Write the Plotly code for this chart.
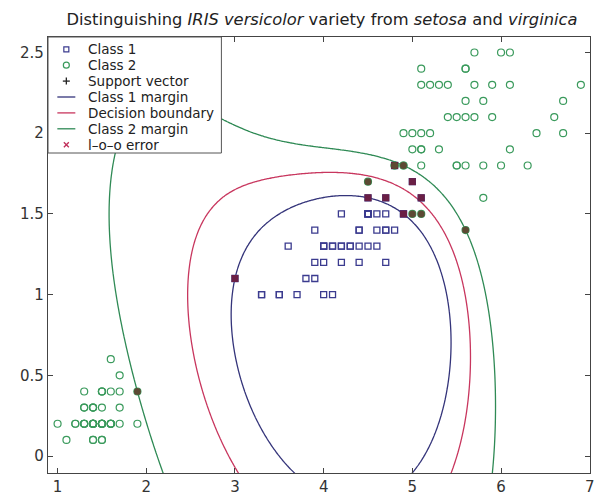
import numpy as np
import plotly.graph_objects as go

# Iris petal measurements (cm): length, width
versicolor_length = [4.7, 4.5, 4.9, 4.0, 4.6, 4.5, 4.7, 3.3, 4.6, 3.9, 3.5, 4.2, 4.0, 4.7, 3.6, 4.4, 4.5,
                     4.1, 4.5, 3.9, 4.8, 4.0, 4.9, 4.7, 4.3, 4.4, 4.8, 5.0, 4.5, 3.5, 3.8, 3.7, 3.9, 5.1,
                     4.5, 4.5, 4.7, 4.4, 4.1, 4.0, 4.4, 4.6, 4.0, 3.3, 4.2, 4.2, 4.2, 4.3, 3.0, 4.1]
versicolor_width = [1.4, 1.5, 1.5, 1.3, 1.5, 1.3, 1.6, 1.0, 1.3, 1.4, 1.0, 1.5, 1.0, 1.4, 1.3, 1.4, 1.5,
                    1.0, 1.5, 1.1, 1.8, 1.3, 1.5, 1.2, 1.3, 1.4, 1.4, 1.7, 1.5, 1.0, 1.1, 1.0, 1.2, 1.6,
                    1.5, 1.6, 1.5, 1.3, 1.3, 1.3, 1.2, 1.4, 1.2, 1.0, 1.3, 1.2, 1.3, 1.3, 1.1, 1.3]
setosa_length = [1.4, 1.4, 1.3, 1.5, 1.4, 1.7, 1.4, 1.5, 1.4, 1.5, 1.5, 1.6, 1.4, 1.1, 1.2, 1.5, 1.3,
                 1.4, 1.7, 1.5, 1.7, 1.5, 1.0, 1.7, 1.9, 1.6, 1.6, 1.5, 1.4, 1.6, 1.6, 1.5, 1.5, 1.4,
                 1.5, 1.2, 1.3, 1.4, 1.3, 1.5, 1.3, 1.3, 1.3, 1.6, 1.9, 1.4, 1.6, 1.4, 1.5, 1.4]
setosa_width = [0.2, 0.2, 0.2, 0.2, 0.2, 0.4, 0.3, 0.2, 0.2, 0.1, 0.2, 0.2, 0.1, 0.1, 0.2, 0.4, 0.4,
                0.3, 0.3, 0.3, 0.2, 0.4, 0.2, 0.5, 0.2, 0.2, 0.4, 0.2, 0.2, 0.2, 0.2, 0.4, 0.1, 0.2,
                0.2, 0.2, 0.2, 0.1, 0.2, 0.2, 0.3, 0.3, 0.2, 0.6, 0.4, 0.3, 0.2, 0.2, 0.2, 0.2]
virginica_length = [6.0, 5.1, 5.9, 5.6, 5.8, 6.6, 4.5, 6.3, 5.8, 6.1, 5.1, 5.3, 5.5, 5.0, 5.1, 5.3, 5.5,
                    6.7, 6.9, 5.0, 5.7, 4.9, 6.7, 4.9, 5.7, 6.0, 4.8, 4.9, 5.6, 5.8, 6.1, 6.4, 5.6, 5.1,
                    5.6, 6.1, 5.6, 5.5, 4.8, 5.4, 5.6, 5.1, 5.1, 5.9, 5.7, 5.2, 5.0, 5.2, 5.4, 5.1]
virginica_width = [2.5, 1.9, 2.1, 1.8, 2.2, 2.1, 1.7, 1.8, 1.8, 2.5, 2.0, 1.9, 2.1, 2.0, 2.4, 2.3, 1.8,
                   2.2, 2.3, 1.5, 2.3, 2.0, 2.0, 1.8, 2.1, 1.8, 1.8, 1.8, 2.1, 1.6, 1.9, 2.0, 2.2, 1.5,
                   1.4, 2.3, 2.4, 1.8, 1.8, 2.1, 2.4, 2.3, 1.9, 2.3, 2.5, 2.3, 1.9, 2.0, 2.3, 1.8]

x_ticks = [1, 2, 3, 4, 5, 6, 7]
y_ticks = [0, 0.5, 1, 1.5, 2, 2.5]
legend_labels = ['Class 1', 'Class 2', 'Support vector', 'Class 1 margin',
                 'Decision boundary', 'Class 2 margin', 'l\u2013o\u2013o error']

# RBF support vector classifier settings
SIGMA = 1.0
C_BOUND = 22.0

# Class 1 = versicolor (+1), Class 2 = setosa and virginica (-1)
X1 = np.column_stack([versicolor_length, versicolor_width])
X2 = np.column_stack([setosa_length + virginica_length, setosa_width + virginica_width])
X = np.vstack([X1, X2])
y = np.r_[np.ones(len(X1)), -np.ones(len(X2))]


def rbf(A, B):
    d2 = ((A[:, None, :] - B[None, :, :]) ** 2).sum(-1)
    return np.exp(-d2 / (2 * SIGMA ** 2))


def train_svc(X, y, C, tol=1e-3, max_iter=60000):
    """SMO with maximal-violating-pair selection."""
    K = rbf(X, X)
    Q = y[:, None] * y[None, :] * K
    a = np.zeros(len(y))
    G = -np.ones(len(y))
    for _ in range(max_iter):
        up = ((y > 0) & (a < C)) | ((y < 0) & (a > 0))
        low = ((y > 0) & (a > 0)) | ((y < 0) & (a < C))
        v = -y * G
        vu = np.where(up, v, -np.inf)
        vl = np.where(low, v, np.inf)
        i, j = int(np.argmax(vu)), int(np.argmin(vl))
        if vu[i] - vl[j] < tol:
            break
        quad = max(K[i, i] + K[j, j] - 2 * K[i, j], 1e-12)
        t = (vu[i] - vl[j]) / quad
        t = min(t, C - a[i] if y[i] > 0 else a[i], a[j] if y[j] > 0 else C - a[j])
        a[i] += y[i] * t
        a[j] -= y[j] * t
        G += t * (y[i] * Q[:, i] - y[j] * Q[:, j])
    free = (a > 1e-8) & (a < C - 1e-8)
    b = np.mean(-y[free] * G[free]) if free.any() else (vu[i] + vl[j]) / 2
    return a, b


alpha, bias = train_svc(X, y, C_BOUND)
coef = alpha * y

gx = np.linspace(0.8, 7.1, 320)
gy = np.linspace(-0.2, 2.7, 160)
GX, GY = np.meshgrid(gx, gy)
F = (rbf(np.c_[GX.ravel(), GY.ravel()], X) @ coef + bias).reshape(GX.shape)

is_sv = alpha > 1e-6
sv1 = sorted({(round(p[0], 1), round(p[1], 1)) for p, s, c in zip(X, is_sv, y) if s and c > 0})
sv2 = sorted({(round(p[0], 1), round(p[1], 1)) for p, s, c in zip(X, is_sv, y) if s and c < 0})

FONT = 'DejaVu Sans, Arial, sans-serif'
C1_COL = '#3b3b8f'
C2_COL = '#3a9a5c'
SV1_COL = '#6a1f45'
SV2_COL = '#5c4a34'
M1_COL = '#34347a'
DB_COL = '#c8365e'
M2_COL = '#2f8a55'
ERR_COL = '#c0305a'
FRAME = '#444'

fig = go.Figure()

for level, col in [(1, M1_COL), (0, DB_COL), (-1, M2_COL)]:
    fig.add_trace(go.Contour(
        x=gx, y=gy, z=F, showscale=False, hoverinfo='skip',
        contours=dict(start=level, end=level, size=1, coloring='lines'),
        colorscale=[[0, col], [1, col]], line=dict(width=1.3)))

fig.add_trace(go.Scatter(x=X1[:, 0], y=X1[:, 1], mode='markers',
                         marker=dict(symbol='square-open', size=6, color=C1_COL, line=dict(width=1.3))))
fig.add_trace(go.Scatter(x=X2[:, 0], y=X2[:, 1], mode='markers',
                         marker=dict(symbol='circle-open', size=7, color=C2_COL, line=dict(width=1.2))))
fig.add_trace(go.Scatter(x=[p[0] for p in sv1], y=[p[1] for p in sv1], mode='markers',
                         marker=dict(symbol='square', size=7, color=SV1_COL)))
fig.add_trace(go.Scatter(x=[p[0] for p in sv2], y=[p[1] for p in sv2], mode='markers',
                         marker=dict(symbol='circle', size=7, color=SV2_COL)))

axis_common = dict(showline=True, mirror='ticks', linecolor=FRAME, linewidth=1.2, ticks='inside',
                   ticklen=5, tickcolor=FRAME, showgrid=False, zeroline=False, ticklabeloverflow='allow',
                   tickfont=dict(family=FONT, size=15, color='#333'))
fig.update_xaxes(range=[0.892, 7.003], tickvals=x_ticks, **axis_common)
fig.update_yaxes(range=[-0.105, 2.596], tickvals=y_ticks, **axis_common)

# ---- boxed key in the upper-left corner (plot area: 547 x 436 px) ----
PW, PH = 547.0, 436.0
shapes = [dict(type='rect', xref='paper', yref='paper', x0=0, x1=175 / PW, y0=1 - 116 / PH, y1=1,
               fillcolor='white', line=dict(color='#555', width=1), layer='above')]
annotations = []
sym_x = 18.5 / PW
for k, label in enumerate(legend_labels):
    yc = 1 - (12.3 + 15.9 * k) / PH
    annotations.append(dict(text=label, xref='paper', yref='paper', x=38.5 / PW, y=yc,
                            xanchor='left', yanchor='middle', showarrow=False,
                            font=dict(family=FONT, size=13.5, color='#222')))
    px = dict(xref='paper', yref='paper', xsizemode='pixel', ysizemode='pixel',
              xanchor=sym_x, yanchor=yc, layer='above')
    if k == 0:
        shapes.append(dict(type='rect', x0=-2.5, x1=2.5, y0=-2.5, y1=2.5, line=dict(color=C1_COL, width=1.2), **px))
    elif k == 1:
        shapes.append(dict(type='circle', x0=-3, x1=3, y0=-3, y1=3, line=dict(color=C2_COL, width=1.2), **px))
    elif k == 2:
        shapes.append(dict(type='line', x0=-3.5, x1=3.5, y0=0, y1=0, line=dict(color='#222', width=1.3), **px))
        shapes.append(dict(type='line', x0=0, x1=0, y0=-3.5, y1=3.5, line=dict(color='#222', width=1.3), **px))
    elif k in (3, 4, 5):
        col = [M1_COL, DB_COL, M2_COL][k - 3]
        shapes.append(dict(type='line', x0=-9, x1=9, y0=0, y1=0, line=dict(color=col, width=1.3), **px))
    else:
        shapes.append(dict(type='line', x0=-2.5, x1=2.5, y0=-2.5, y1=2.5, line=dict(color=ERR_COL, width=1.3), **px))
        shapes.append(dict(type='line', x0=-2.5, x1=2.5, y0=2.5, y1=-2.5, line=dict(color=ERR_COL, width=1.3), **px))

fig.update_layout(
    width=595, height=496,
    margin=dict(l=48, r=0, t=37, b=23),
    paper_bgcolor='white', plot_bgcolor='white', showlegend=False,
    font=dict(family=FONT, color='#222'),
    title=dict(text='Distinguishing <i>IRIS versicolor</i> variety from <i>setosa</i> and <i>virginica</i>',
               xref='paper', x=0.5055, xanchor='center', y=0.962, yanchor='middle',
               font=dict(family=FONT, size=16.3, color='#222')),
    shapes=shapes, annotations=annotations,
)

fig.write_html("out.html")
